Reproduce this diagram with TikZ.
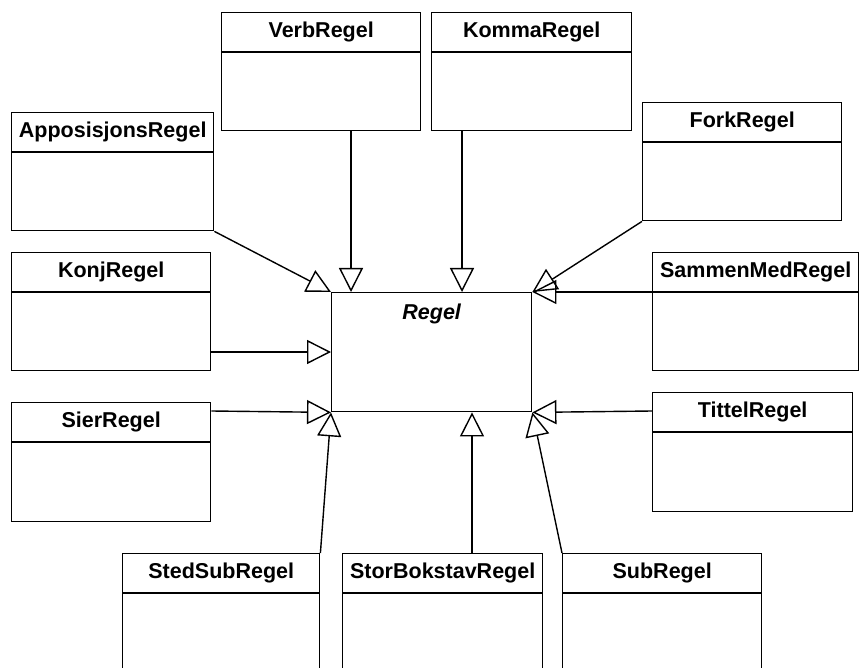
\documentclass[tikz,border=0pt]{standalone}
\usepackage{fontspec}
\setmainfont{Liberation Sans}
\usetikzlibrary{arrows.meta,calc}

\tikzset{
  classbox/.style={draw=black, line width=1.4pt, fill=white, inner sep=0pt, anchor=north west},
  classtitle/.style={font=\fontsize{21.5}{24}\selectfont\bfseries, inner sep=0pt},
  abstracttitle/.style={font=\fontsize{21.5}{24}\selectfont\bfseries\itshape, inner sep=0pt},
  gen/.style={draw=black, line width=1.4pt,
    -{Triangle[open, length=24pt, width=24pt, line width=1.4pt]}},
}

% UML class: name, left, top, width, height, title
\newcommand\umlclass[6]{%
  \node[classbox, minimum width=#4pt, minimum height=#5pt] (#1) at (#2pt,-#3pt) {};
  \node[classtitle] (#1-title) at ($(#1.north)+(0,-20pt)$) {#6};
  \draw[line width=1.4pt] ($(#1.north west)+(0,-40pt)$) -- ($(#1.north east)+(0,-40pt)$);
}

\begin{document}
\begin{tikzpicture}
  \useasboundingbox (0,0) rectangle (859pt,-668pt);
  \clip (0,0) rectangle (859pt,-668pt);
  \fill[white] (0,0) rectangle (859pt,-668pt);

  % subclasses
  \umlclass{verb}{221}{12}{199}{118}{VerbRegel}
  \umlclass{komma}{431}{12}{200}{118}{KommaRegel}
  \umlclass{appos}{11}{112}{202}{118}{ApposisjonsRegel}
  \umlclass{fork}{642}{102}{199}{118}{ForkRegel}
  \umlclass{konj}{11}{252}{199}{118}{KonjRegel}
  \umlclass{sammen}{652}{252}{206}{118}{SammenMedRegel}
  \umlclass{sier}{11}{402}{199}{119}{SierRegel}
  \umlclass{tittel}{652}{392}{200}{119}{TittelRegel}
  \umlclass{stedsub}{122}{553}{197}{130}{StedSubRegel}
  \umlclass{storbok}{342}{553}{200}{130}{StorBokstavRegel}
  \umlclass{sub}{562}{553}{199}{130}{SubRegel}

  % abstract base class
  \node[classbox, minimum width=200pt, minimum height=119pt] (regel) at (331pt,-292pt) {};
  \node[abstracttitle] (regel-title) at ($(regel.north)+(0,-22pt)$) {Regel};

  % generalisations
  \draw[gen] (appos.south east) -- (regel.north west);
  \draw[gen] ($(verb.south west)+(130pt,0)$) -- ($(regel.north west)+(20pt,0)$);
  \draw[gen] ($(komma.south west)+(31pt,0)$) -- ($(regel.north west)+(131pt,0)$);
  \draw[gen] (fork.south west) -- (regel.north east);
  \draw[gen] ($(sammen.north west)+(0,-40pt)$) -- (regel.north east);
  \draw[gen] ($(konj.north east)+(0,-100pt)$) -- ($(regel.north west)+(0,-60pt)$);
  \draw[gen] ($(sier.north east)+(0,-9pt)$) -- (regel.south west);
  \draw[gen] ($(tittel.north west)+(0,-19pt)$) -- (regel.south east);
  \draw[gen] (stedsub.north east) -- (regel.south west);
  \draw[gen] ($(storbok.north west)+(130pt,0)$) -- ($(regel.south west)+(141pt,0)$);
  \draw[gen] (sub.north west) -- (regel.south east);
\end{tikzpicture}
\end{document}
